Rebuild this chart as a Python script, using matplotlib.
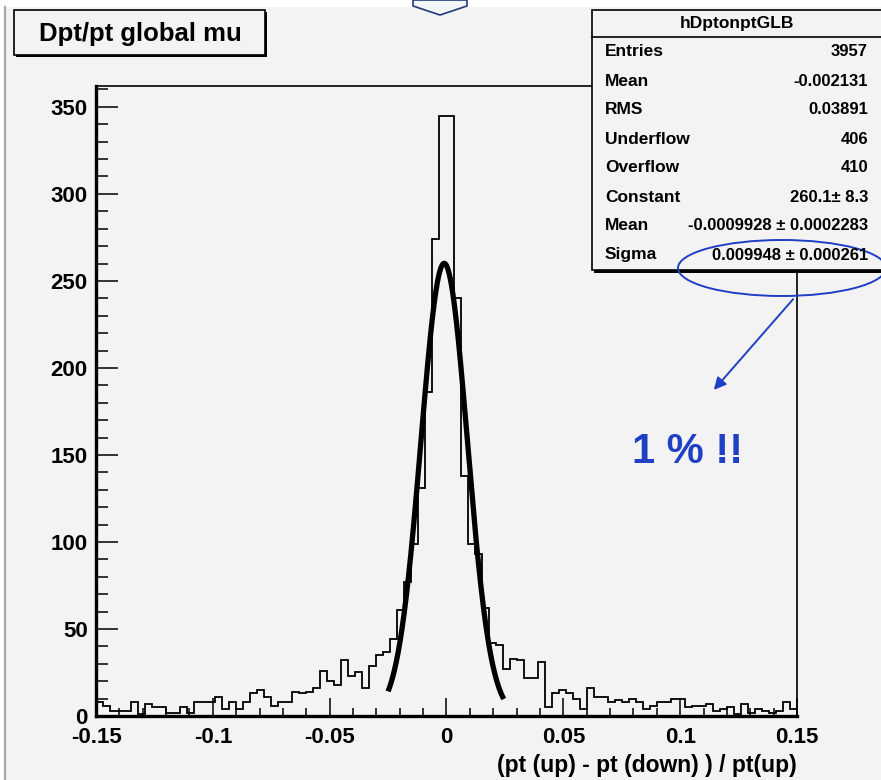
import numpy as np
import matplotlib
matplotlib.use("Agg")
import matplotlib.pyplot as plt
from matplotlib.patches import Rectangle, Ellipse, Polygon, FancyArrowPatch

FONT = ["Liberation Sans", "DejaVu Sans"]
plt.rcParams["font.family"] = FONT
plt.rcParams["font.weight"] = "bold"

# histogram: 100 bins from -0.15 to 0.15
xlo = -0.15
xhi = 0.15
nbins = 100
counts = [8, 6, 3, 3, 3, 8, 1, 7, 5, 5, 2, 2, 5, 2, 8, 8, 8,
          11, 4, 8, 4, 8, 13, 15, 11, 6, 8, 8, 14, 13, 14, 16, 26, 20, 18,
          32, 23, 25, 16, 29, 35, 37, 44, 61, 77, 99, 131, 186, 274,
          345, 345, 240, 138, 99, 93, 62,
          42, 41, 27, 33, 32, 22, 22, 31, 5, 13, 15, 13, 10, 4, 16,
          11, 11, 8, 9, 8, 10, 8, 4, 6, 8, 8, 10, 10, 5, 6, 6, 7, 3, 4, 5, 1, 7,
          2, 4, 3, 2, 3, 8, 4]

# gaussian fit parameters (from the stats box)
g_const = 260.1
g_mean = -0.0009928
g_sigma = 0.009948
fit_lo = -0.025
fit_hi = 0.0245

stat_names = ["Entries", "Mean", "RMS", "Underflow", "Overflow", "Constant", "Mean", "Sigma"]
stat_values = ["3957", "-0.002131", "0.03891", "406", "410", "260.1\u00b1 8.3",
               "-0.0009928 \u00b1 0.0002283", "0.009948 \u00b1 0.000261"]

bg = "#f3f3f3"
blue = "#1f3fc4"
W, H = 881, 780

fig = plt.figure(figsize=(W / 100, H / 100), dpi=100, facecolor=bg)
ax = fig.add_axes([96 / W, 1 - 716 / H, (797 - 96) / W, (716 - 86) / H], facecolor=bg)

edges = np.linspace(xlo, xhi, nbins + 1)
ax.stairs(counts, edges, baseline=None, color="black", linewidth=1.3)

xf = np.linspace(fit_lo, fit_hi, 300)
yf = g_const * np.exp(-0.5 * ((xf - g_mean) / g_sigma) ** 2)
ax.plot(xf, yf, color="black", linewidth=3.8, solid_capstyle="butt")

ax.set_xlim(xlo, xhi)
ax.set_ylim(0, 362)
ax.set_xticks([-0.15, -0.1, -0.05, 0, 0.05, 0.1, 0.15])
ax.set_xticklabels(["-0.15", "-0.1", "-0.05", "0", "0.05", "0.1", "0.15"])
ax.set_xticks(np.arange(-0.14, 0.15, 0.01), minor=True)
ax.set_yticks(range(0, 351, 50))
ax.set_yticks(range(0, 361, 10), minor=True)
ax.tick_params(axis="both", which="both", direction="in", colors="black", labelsize=16)
ax.tick_params(axis="x", which="major", length=13, width=1.1, pad=8)
ax.tick_params(axis="x", which="minor", length=6, width=1.1)
ax.tick_params(axis="y", which="major", length=16, width=1.1, pad=6)
ax.tick_params(axis="y", which="minor", length=8.5, width=1.1)
for lab in ax.get_xticklabels() + ax.get_yticklabels():
    lab.set_fontweight("bold")
for s in ["bottom", "left"]:
    ax.spines[s].set_linewidth(2.4)
for s in ["top", "right"]:
    ax.spines[s].set_linewidth(1.2)
ax.set_xlabel("(pt (up) - pt (down) ) / pt(up)", loc="right", fontsize=16.5,
              fontweight="bold", labelpad=4)

# overlay in pixel coordinates for the boxes and annotations
ov = fig.add_axes([0, 0, 1, 1], facecolor="none", zorder=10)
ov.set_xlim(0, W)
ov.set_ylim(H, 0)
ov.axis("off")

ov.add_patch(Rectangle((0, 0), W, 7, facecolor="white", edgecolor="none"))
ov.add_patch(Rectangle((0, 0), 4, H, facecolor="white", edgecolor="none"))
ov.plot([5, 5], [7, H], color="#a8a8a8", linewidth=1.6)
ov.add_patch(Polygon([(413, 0), (413, 6), (440, 15), (467, 6), (467, 0)],
                     closed=True, facecolor="#f2f6fb", edgecolor="#1f3a78", linewidth=1.2))

# title box
ov.add_patch(Rectangle((16, 12), 251, 45, facecolor="black", edgecolor="none"))
ov.add_patch(Rectangle((14, 10), 251, 45, facecolor=bg, edgecolor="black", linewidth=1.2))
ov.text(140, 34, "Dpt/pt global mu", ha="center", va="center", fontsize=18.5, fontweight="bold")

# stats box
ov.add_patch(Rectangle((594, 12), 300, 261, facecolor="black", edgecolor="none"))
ov.add_patch(Rectangle((592, 10), 300, 260, facecolor=bg, edgecolor="black", linewidth=1.2))
ov.plot([592, 892], [37, 37], color="black", linewidth=1.2)
ov.text(737, 23.5, "hDptonptGLB", ha="center", va="center", fontsize=12.5, fontweight="bold")
for i in range(len(stat_names)):
    yy = 52 + i * 29
    ov.text(605, yy, stat_names[i], ha="left", va="center", fontsize=12.5, fontweight="bold")
    ov.text(868, yy, stat_values[i], ha="right", va="center", fontsize=12, fontweight="bold")

# blue annotations
ov.add_patch(Ellipse((782, 268), 208, 56, facecolor="none", edgecolor=blue, linewidth=1.4))
ov.add_patch(FancyArrowPatch((795, 297), (712, 392), arrowstyle="-|>", mutation_scale=18,
                             color=blue, linewidth=1.4))
ov.text(688, 452, "1 % !!", ha="center", va="center", fontsize=30, fontweight="bold",
        color=blue)

fig.savefig("out.png", dpi=100, facecolor=bg)
